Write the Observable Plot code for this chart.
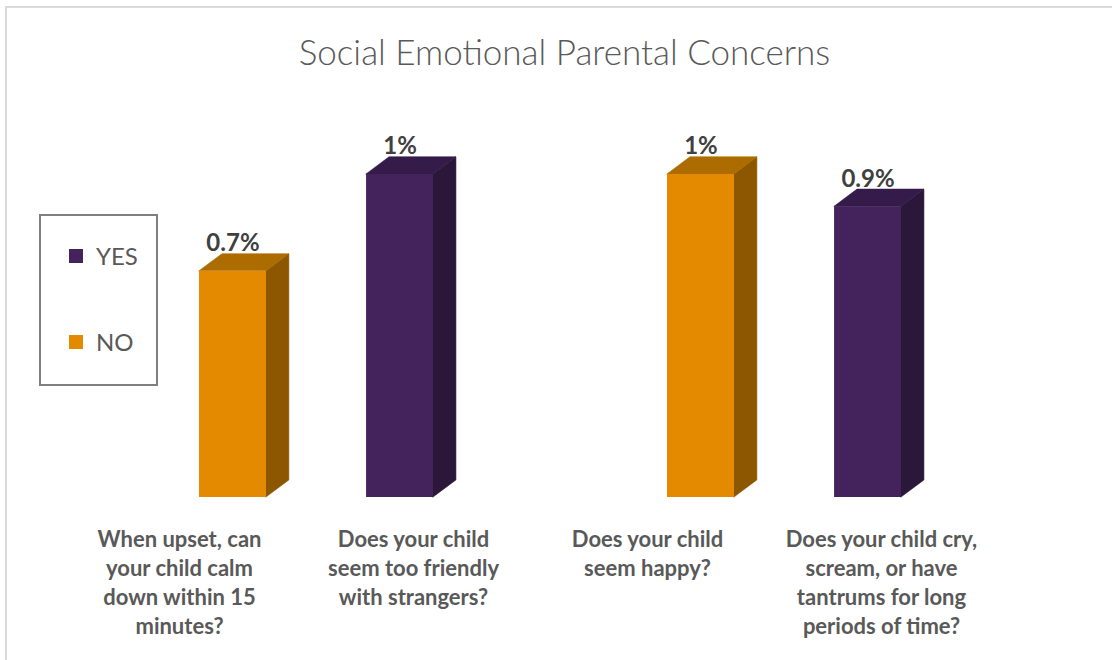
<!DOCTYPE html>
<html>
<head>
<meta charset="utf-8">
<script src="https://cdn.jsdelivr.net/npm/d3@7"></script>
<script src="https://cdn.jsdelivr.net/npm/@observablehq/plot@0.6"></script>
<style>
  html, body { margin: 0; padding: 0; background: #fff; }
  #wrap { position: relative; width: 1112px; height: 660px; overflow: hidden; font-family: Lato, "Open Sans", sans-serif; }
  #frame { position: absolute; left: 5px; top: 6px; right: -10px; bottom: -10px; border-left: 2px solid #d9d9d9; border-top: 2px solid #d9d9d9; }
  #title { position: absolute; top: 30px; left: 0; width: 1129px; text-align: center; font-size: 35px; line-height: 42px; font-weight: 300; color: #595959; }
  #legend { position: absolute; left: 39px; top: 214px; width: 115px; height: 168px; border: 2px solid #7f7f7f; }
  .item { position: absolute; left: 28px; display: flex; align-items: center; font-size: 24px; color: #595959; }
  .sw { width: 14px; height: 14px; margin-right: 13px; }
  #chart { position: absolute; left: 0; top: 0; }
</style>
</head>
<body>
<div id="wrap">
  <div id="frame"></div>
  <div id="chart"></div>
  <div id="title"></div>
  <div id="legend"></div>
</div>
<script>
// ---- data ----
const chartTitle = "Social Emotional Parental Concerns";
const questions = [
  "When upset, can\nyour child calm\ndown within 15\nminutes?",
  "Does your child\nseem too friendly\nwith strangers?",
  "Does your child\nseem happy?",
  "Does your child cry,\nscream, or have\ntantrums for long\nperiods of time?"
];
const answers = ["NO", "YES", "NO", "YES"];
const values = [0.7, 1.0, 1.0, 0.9];
const valueLabels = ["0.7%", "1%", "1%", "0.9%"];
const seriesNames = ["YES", "NO"];
const frontColors = ["#44235c", "#e38a00"];
const topColors = ["#341b49", "#ad6c00"];
const sideColors = ["#2b1739", "#8c5700"];

// ---- geometry (in scale units) ----
const barW = 0.286;   // bar width, fraction of a category
const depthX = 0.098; // 3D depth, x units
const depthY = 0.053; // 3D depth, y units

const rows = questions.map((q, i) => {
  const a = answers[i];
  const x1 = i + (a === "YES" ? -barW : 0);
  return { i, q, a, v: values[i], lab: valueLabels[i], x1, x2: x1 + barW };
});

const colorDomain = [], colorRange = [];
seriesNames.forEach((s, k) => {
  colorDomain.push(s + "-front", s + "-top", s + "-side");
  colorRange.push(frontColors[k], topColors[k], sideColors[k]);
});

const sidePts = rows.flatMap(r => [
  { id: r.i, k: r.a + "-side", x: r.x2, y1: 0, y2: r.v },
  { id: r.i, k: r.a + "-side", x: r.x2 + depthX, y1: depthY, y2: r.v + depthY }
]);
const topPts = rows.flatMap(r => [
  { id: r.i, k: r.a + "-top", y: r.v, x1: r.x1, x2: r.x2 },
  { id: r.i, k: r.a + "-top", y: r.v + depthY, x1: r.x1 + depthX, x2: r.x2 + depthX }
]);

const W = 1112, H = 660;
const plot = Plot.plot({
  width: W, height: H,
  marginLeft: 82, marginRight: 94, marginTop: 77, marginBottom: 163,
  x: { type: "linear", domain: [-0.5, 3.5], axis: null },
  y: { domain: [0, 1.3], axis: null },
  color: { type: "ordinal", domain: colorDomain, range: colorRange },
  style: { fontFamily: "Lato, 'Open Sans', sans-serif", background: "transparent" },
  marks: [
    Plot.areaY(sidePts, { x: "x", y1: "y1", y2: "y2", z: "id", fill: "k", stroke: "k", strokeWidth: 0.6, curve: "linear" }),
    Plot.areaX(topPts, { y: "y", x1: "x1", x2: "x2", z: "id", fill: "k", stroke: "k", strokeWidth: 0.6, curve: "linear" }),
    Plot.rectY(rows, { x1: "x1", x2: "x2", y1: 0, y2: "v", fill: d => d.a + "-front", inset: 0 }),
    Plot.text(rows, { x: d => (d.x1 + d.x2) / 2, y: d => d.v + depthY, text: "lab", lineAnchor: "bottom", dy: -3, fontSize: 24, fontWeight: "bold", fill: "#404040" }),
    Plot.text(rows, { x: "i", y: 0, text: "q", lineAnchor: "top", dy: 29, dx: -20, fontSize: 22, fontWeight: "bold", lineHeight: 1.32, fill: "#595959" })
  ]
});
document.getElementById("chart").appendChild(plot);
document.getElementById("title").textContent = chartTitle;

// legend (order as reference: YES above NO)
const legend = document.getElementById("legend");
seriesNames.forEach((s, k) => {
  const it = document.createElement("div");
  it.className = "item";
  it.style.top = (k === 0 ? 25 : 111) + "px";
  it.innerHTML = `<span class="sw" style="background:${frontColors[k]}"></span><span>${s}</span>`;
  legend.appendChild(it);
});
</script>
</body>
</html>
